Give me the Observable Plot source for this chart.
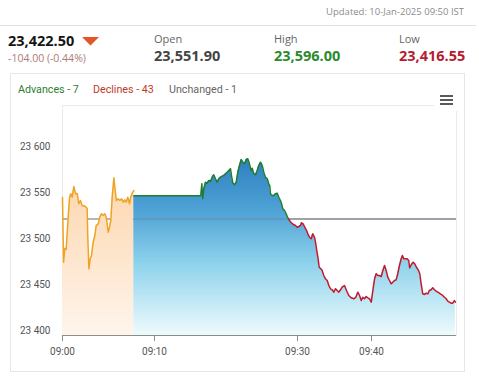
<!DOCTYPE html>
<html><head><meta charset="utf-8">
<script src="https://cdn.jsdelivr.net/npm/d3@7"></script>
<script src="https://cdn.jsdelivr.net/npm/@observablehq/plot@0.6"></script>
<style>
html,body{margin:0;padding:0;background:#fff}
body{width:479px;height:377px;overflow:hidden;position:relative;font-family:"Open Sans",sans-serif}
.t{position:absolute;white-space:nowrap;line-height:1}
#chart{position:absolute;left:0;top:80px}
</style></head><body>
<div class="t" id="updated" style="right:15px;top:7px;font-size:9.5px;color:#8c8c8c">Updated: 10-Jan-2025 09:50 IST</div>
<div style="position:absolute;left:0;top:25px;width:476px;height:1px;background:#e3e3e3"></div>
<div class="t" style="left:8px;top:34px;font-size:14.5px;font-weight:700;color:#151515">23,422.50</div>
<svg style="position:absolute;left:82px;top:37px" width="18" height="9"><path d="M0,0H17L8.5,8.5Z" fill="#e5552b"/></svg>
<div class="t" style="left:8px;top:53px;font-size:10.5px;color:#ad7b76">-104.00 (-0.44%)</div>
<div class="t" style="left:154px;top:33px;font-size:11px;color:#666">Open</div>
<div class="t" style="left:154px;top:49px;font-size:14.5px;font-weight:700;color:#444">23,551.90</div>
<div class="t" style="left:274px;top:33px;font-size:11px;color:#666">High</div>
<div class="t" style="left:274px;top:49px;font-size:14.5px;font-weight:700;color:#2b8a2e">23,596.00</div>
<div class="t" style="left:399px;top:33px;font-size:11px;color:#666">Low</div>
<div class="t" style="left:399px;top:49px;font-size:14.5px;font-weight:700;color:#b51c30">23,416.55</div>
<div style="position:absolute;left:10px;top:73px;width:453px;height:297px;border:1px solid #e6e6e6"></div>
<div class="t" style="left:18px;top:85px;font-family:Roboto,sans-serif;font-size:10.7px;color:#2f7d32">Advances - 7</div>
<div class="t" style="left:93px;top:85px;font-family:Roboto,sans-serif;font-size:10.7px;color:#c0392b">Declines - 43</div>
<div class="t" style="left:169px;top:85px;font-family:Roboto,sans-serif;font-size:10.7px;color:#666">Unchanged - 1</div>
<div id="chart"></div>
<div style="position:absolute;left:434px;top:88px;width:26px;height:23px;background:#fff;z-index:2"></div>
<div style="position:absolute;left:440px;top:95px;width:13px;height:2px;background:#5a5a5a;z-index:3"></div>
<div style="position:absolute;left:440px;top:99px;width:13px;height:2px;background:#5a5a5a;z-index:3"></div>
<div style="position:absolute;left:440px;top:103px;width:13px;height:2px;background:#5a5a5a;z-index:3"></div>
<script>
// ---- data ----
const preOpenTimes = ["09:00:00","09:00:07","09:00:15","09:00:24","09:00:37","09:00:46","09:00:54","09:01:03","09:01:14","09:01:25",
"09:01:36","09:01:46","09:01:57","09:02:08","09:02:30","09:02:41","09:02:45","09:02:52","09:03:01","09:03:09",
"09:03:20","09:03:31","09:03:40","09:03:53","09:04:03","09:04:14","09:04:25","09:04:36","09:04:45","09:04:51",
"09:04:58","09:05:07","09:05:15","09:05:24","09:05:35","09:05:46","09:05:52","09:06:03","09:06:14","09:06:25",
"09:06:36","09:06:46","09:06:55","09:07:06","09:07:17","09:07:25","09:07:35","09:07:45"];
const preOpenValues = [23550.3,23479.7,23494.6,23493.5,23528.6,23550.3,23554.0,23550.3,23562.0,23554.0,
23554.3,23543.2,23546.7,23541.3,23540.2,23537.7,23506.8,23472.5,23483.4,23487.0,
23501.4,23508.7,23519.6,23521.4,23528.6,23532.3,23530.4,23532.3,23528.6,23521.4,
23512.3,23517.7,23525.0,23550.3,23571.4,23554.0,23546.7,23548.6,23546.7,23548.6,
23544.9,23547.5,23544.9,23550.3,23543.2,23550.3,23554.7,23557.6];
const sessionTimes = ["09:07:45","09:16:29","09:16:37","09:16:45","09:16:54","09:17:08","09:17:22","09:17:36","09:17:50","09:18:04",
"09:18:17","09:18:32","09:18:46","09:18:59","09:19:14","09:19:28","09:19:41","09:19:56","09:20:10","09:20:24",
"09:20:38","09:20:46","09:20:57","09:21:11","09:21:26","09:21:39","09:21:53","09:22:08","09:22:21","09:22:35",
"09:22:50","09:23:03","09:23:17","09:23:31","09:23:40","09:23:53","09:24:08","09:24:22","09:24:35","09:24:50",
"09:25:04","09:25:17","09:25:31","09:25:46","09:25:59","09:26:07","09:26:13","09:26:28","09:26:41","09:26:55",
"09:27:10","09:27:23","09:27:37","09:27:46","09:27:57","09:28:11","09:28:25","09:28:36","09:28:53","09:29:10",
"09:29:26","09:29:43","09:29:58","09:30:11","09:30:25","09:30:32","09:30:46","09:30:59","09:31:11","09:31:24",
"09:31:37","09:31:51","09:32:04","09:32:18","09:32:26","09:32:34","09:32:45","09:32:56","09:33:09","09:33:20",
"09:33:33","09:33:47","09:34:01","09:34:14","09:34:28","09:34:41","09:34:54","09:35:08","09:35:22","09:35:35",
"09:35:49","09:36:02","09:36:21","09:36:37","09:36:56","09:37:15","09:37:37","09:37:53","09:38:09","09:38:23",
"09:38:37","09:38:49","09:39:03","09:39:17","09:39:30","09:39:44","09:39:58","09:40:11","09:40:25","09:40:38",
"09:40:51","09:41:05","09:41:19","09:41:32","09:41:46","09:41:59","09:42:12","09:42:26","09:42:40","09:42:53",
"09:43:07","09:43:20","09:43:33","09:43:47","09:44:01","09:44:11","09:44:22","09:44:36","09:44:49","09:45:02",
"09:45:10","09:45:24","09:45:38","09:45:51","09:46:05","09:46:19","09:46:32","09:46:43","09:46:56","09:47:10",
"09:47:24","09:47:37","09:47:50","09:48:04","09:48:17","09:48:31","09:48:45","09:48:58","09:49:11","09:49:25",
"09:49:38","09:49:52","09:50:06","09:50:19","09:50:32","09:50:46","09:50:59","09:51:13","09:51:21"];
const sessionValues = [23551.9,23551.9,23564.9,23548.6,23559.5,23566.6,23565.5,23568.5,23567.4,23572.1,
23574.7,23570.3,23566.6,23570.3,23572.1,23573.2,23573.9,23575.8,23577.5,23579.3,
23581.2,23573.9,23566.0,23563.8,23566.6,23577.5,23584.8,23591.3,23588.4,23586.6,
23591.3,23592.1,23586.6,23579.3,23581.8,23575.8,23574.7,23579.3,23584.8,23588.4,
23584.8,23577.5,23572.1,23570.3,23564.9,23563.0,23554.0,23552.2,23552.2,23554.0,
23554.7,23550.3,23546.7,23543.2,23537.7,23535.9,23532.3,23528.6,23525.0,23522.1,
23520.7,23519.6,23517.7,23518.5,23519.6,23522.5,23521.4,23517.7,23514.9,23510.5,
23506.8,23505.1,23510.5,23506.8,23501.4,23494.2,23485.1,23474.2,23472.5,23470.7,
23465.2,23461.6,23459.8,23454.3,23450.8,23449.7,23447.1,23450.8,23448.9,23447.1,
23449.7,23452.5,23454.3,23448.9,23443.5,23441.0,23439.9,23441.6,23447.1,23443.5,
23438.0,23441.6,23439.9,23442.4,23441.0,23439.9,23436.2,23448.9,23461.6,23467.1,
23465.2,23465.2,23464.1,23470.7,23476.1,23470.7,23463.4,23459.8,23456.2,23457.9,
23459.8,23460.5,23467.1,23476.1,23483.4,23487.0,23483.4,23483.4,23483.4,23481.5,
23473.6,23477.2,23479.7,23477.9,23474.2,23471.4,23467.1,23456.2,23445.3,23444.6,
23446.0,23445.3,23448.9,23449.7,23451.8,23449.7,23448.2,23447.1,23446.0,23444.6,
23443.5,23441.6,23439.9,23437.3,23436.2,23435.1,23435.1,23438.0,23436.2];
const prevClose = 23526.5;
const xTickLabels = ["09:00","09:10","09:30","09:40"];
const yTickValues = [23400,23450,23500,23550,23600];
const yDomain = [23400,23650];
// ordinal-like time axis: anchor times and where they sit on screen
const xAnchorTimes = ["09:00:00","09:10:00","09:30:00","09:40:00","09:51:30"];
const xAnchorRange = [62,154,297,371,456];

const parseT = d3.timeParse("%H:%M:%S");
const parseM = d3.timeParse("%H:%M");
const pre = preOpenTimes.map((t,i)=>({t:parseT(t), v:preOpenValues[i]}));
const ses = sessionTimes.map((t,i)=>({t:parseT(t), v:sessionValues[i]}));
const xTicks = xTickLabels.map(parseM);
const xDomain = xAnchorTimes.map(parseT);
const base = yDomain[0];

const chart = Plot.plot({
  width: 479, height: 290,
  marginLeft: 62, marginRight: 23, marginTop: 25, marginBottom: 35,
  x: {type: "time", domain: xDomain, range: xAnchorRange, label: null},
  y: {domain: yDomain, label: null},
  style: {fontFamily: "Roboto, sans-serif", fontSize: "10px", color: "#555", background: "transparent"},
  marks: [
    Plot.frame({stroke: "#ebebeb"}),
    Plot.ruleY([prevClose], {stroke: "#9c9c9c", strokeWidth: 1.5}),
    Plot.areaY(pre, {x: "t", y1: base, y2: "v", fill: "url(#gradPre)"}),
    Plot.areaY(ses, {x: "t", y1: base, y2: "v", fill: "url(#gradSes)"}),
    Plot.ruleY([prevClose], {x1: ses[0].t, x2: xDomain[xDomain.length-1], stroke: "#6b7f8c", strokeOpacity: 0.45, strokeWidth: 1.5}),
    Plot.line(pre, {x: "t", y: "v", stroke: "#efa325", strokeWidth: 1.5}),
    Plot.line(ses, {x: "t", y: "v", stroke: "url(#gradLine)", strokeWidth: 1.5}),
    Plot.ruleY([base], {stroke: "#8c8c8c"}),
    Plot.axisX(xTicks, {tickSize: 6, tickPadding: 6, tickFormat: "%H:%M", stroke: "#8c8c8c", fill: "#555", label: null}),
    Plot.axisY(yTickValues, {tickSize: 0, tickPadding: 12, dy: -5, fill: "#555", label: null,
      tickFormat: d => d3.format(",")(d).replace(",", " ")})
  ]
});

const yPC = chart.scale("y").apply(prevClose);
const off = yPC / 290;
const svg = d3.select(chart);
const defs = svg.insert("defs", ":first-child");
const gl = defs.append("linearGradient").attr("id", "gradLine").attr("gradientUnits", "userSpaceOnUse")
  .attr("x1", 0).attr("y1", 0).attr("x2", 0).attr("y2", 290);
gl.append("stop").attr("offset", off).attr("stop-color", "#1f7d32");
gl.append("stop").attr("offset", off).attr("stop-color", "#c2182c");
const gs = defs.append("linearGradient").attr("id", "gradSes").attr("x1", 0).attr("y1", 0).attr("x2", 0).attr("y2", 1);
[[0, "#2f7fc0"], [0.3, "#4fa3d6"], [0.6, "#8fd3ec"], [1, "#eefbfd"]].forEach(([o, c]) => gs.append("stop").attr("offset", o).attr("stop-color", c));
const gp = defs.append("linearGradient").attr("id", "gradPre").attr("x1", 0).attr("y1", 0).attr("x2", 0).attr("y2", 1);
[[0, "#fdd6ad"], [1, "#fef5ec"]].forEach(([o, c]) => gp.append("stop").attr("offset", o).attr("stop-color", c));

document.getElementById("chart").appendChild(chart);
</script>
</body></html>
